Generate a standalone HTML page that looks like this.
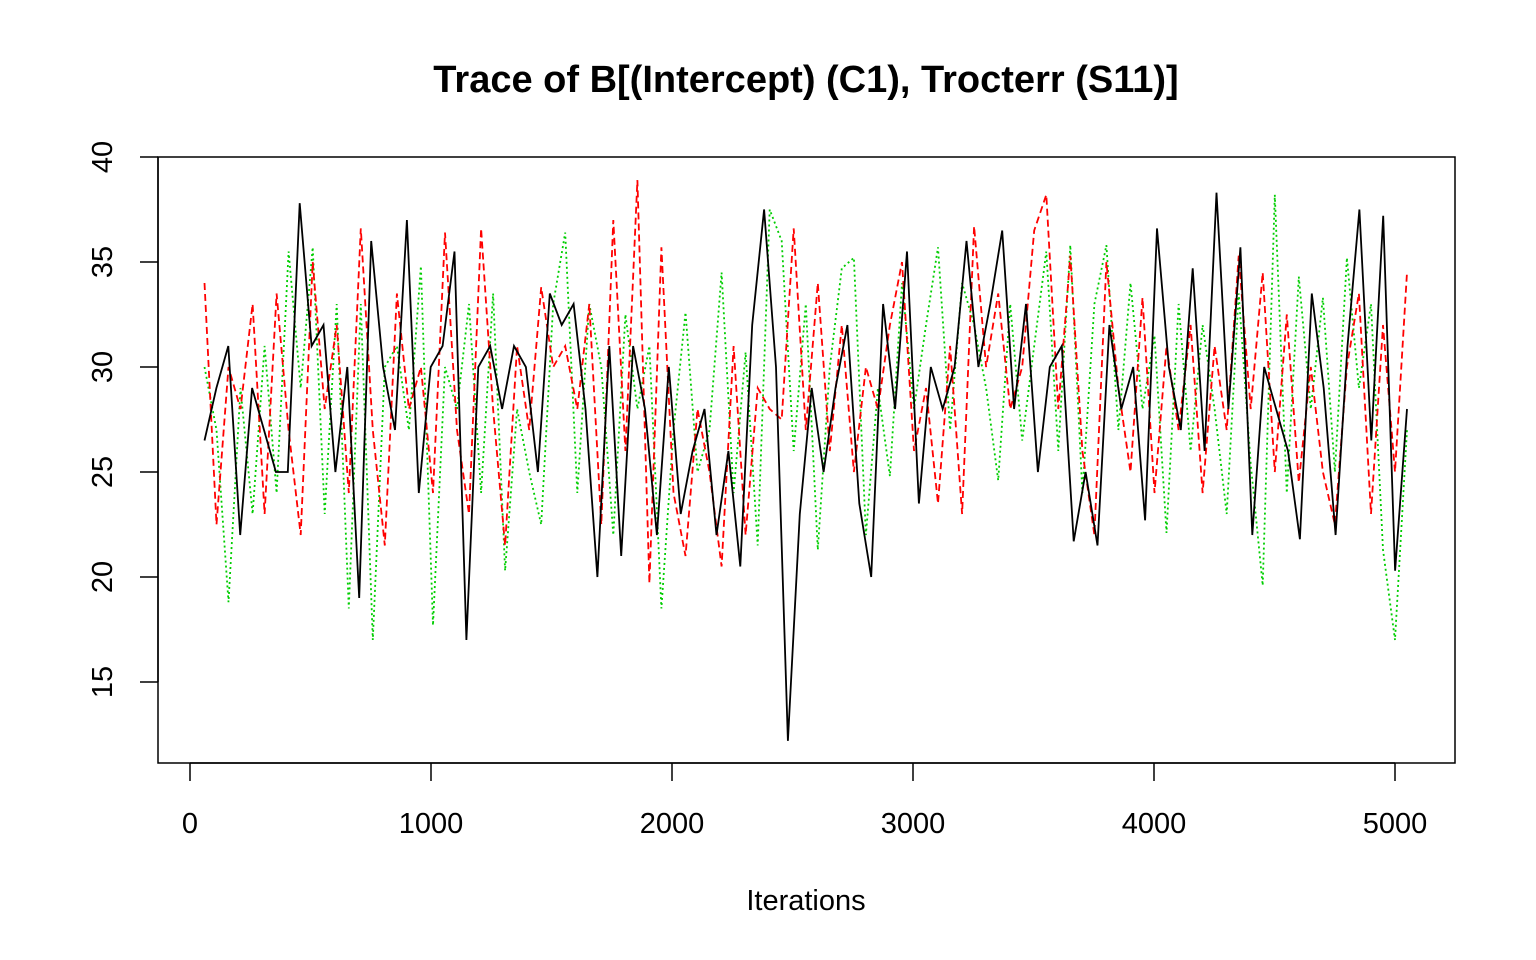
<!DOCTYPE html>
<html><head><meta charset="utf-8"><style>
body{margin:0;background:#fff;}
svg{display:block;font-family:"Liberation Sans",sans-serif;}
</style></head><body>
<svg id="chart" width="1536" height="960">
<text x="806" y="92" text-anchor="middle" font-size="38" font-weight="bold">Trace of B[(Intercept) (C1), Trocterr (S11)]</text>
<rect x="158" y="157" width="1297" height="606" fill="none" stroke="#000" stroke-width="1.5"/>
<g id="xaxis"></g>
<g id="yaxis"></g>
<g id="series"></g>
<text x="806" y="910" text-anchor="middle" font-size="29">Iterations</text>
</svg>
<script>
const iterStart = 60, iterEnd = 5050;
const xTicks = [0,1000,2000,3000,4000,5000];
const yTicks = [15,20,25,30,35,40];
const chain1 = [26.5,29,31,22,29,27,25,25,37.8,31,32,25,30,19,36,30,27,37,24,30,31,35.5,17,30,31,28,31,30,25,33.5,32,33,28,20,31,21,31,28,22,30,23,26,28,22,26,20.5,32,37.5,30,12.2,23,29,25,29,32,23.5,20,33,28,35.5,23.5,30,28,30,36,30,33,36.5,28,33,25,30,31,21.7,25,21.5,32,28,30,22.7,36.6,30,27,34.7,26,38.3,28,35.7,22,30,28,26,21.8,33.5,29,22,31,37.5,26.5,37.2,20.3,28];
const chain2 = [34,22.5,30,28,33,23,33.5,27,22,35,28,32,24,36.6,27,21.5,33.5,28,30,24,36.4,27,23,36.6,28,21.5,31,27,33.8,30,31,28,33,22.5,37,26,38.9,19.7,35.7,24,21,28,25,20.5,31,22,29,28,27.5,36.6,27,34,26,32,25,30,28,32,35,26,29,23.5,31,23,36.7,30,33.5,28,30,36.5,38.2,28,35.3,26,22,35,29,25,33.3,24,31,27,32,24,31,27,35.3,28,34.5,25,32.5,24.5,30,25,22.5,30,33.5,23,32,25,34.5];
const chain3 = [30,27,18.8,29,23,31,24,35.5,29,35.7,23,33,18.5,33,17,30,31,27,34.8,17.7,30,28,33,24,33.5,20.3,28,25,22.5,33,36.4,24,33,30,22,32.5,28,31,18.5,27,32.6,25,27,34.5,24,30.7,21.5,37.5,36,26,33,21.3,30,34.7,35.2,22,29,24.8,34,28,32,35.7,27,34,32,29,24.6,33,26.5,31,35.5,26,35.8,24,33,35.8,27,34,28,31.5,22.1,33,26,32,28,23,33.5,25.4,19.6,38.2,24,34.3,28,33.3,25,35.2,29,33,21.3,17,27];
const X0=190, XS=1205/5000, Y40=157, YS=21;
const sx = v => X0 + v*XS;
const sy = v => Y40 + (40 - v)*YS;
const NS="http://www.w3.org/2000/svg";
function mk(tag, attrs, parent){const e=document.createElementNS(NS,tag);for(const k in attrs)e.setAttribute(k,attrs[k]);parent.appendChild(e);return e;}
const xa=document.getElementById('xaxis');
mk('line',{x1:sx(0),x2:sx(5000),y1:763,y2:763,stroke:'#000','stroke-width':1.5},xa);
xTicks.forEach(t=>{
  const l=mk('line',{x1:sx(t),x2:sx(t),y1:763,y2:781,stroke:'#000','stroke-width':1.5},xa);
  
  
  const tx=mk('text',{x:sx(t),y:833,'text-anchor':'middle','font-size':29},xa);
  tx.textContent=t;
  
  
});
const ya=document.getElementById('yaxis');
mk('line',{x1:158,x2:158,y1:sy(15),y2:sy(40),stroke:'#000','stroke-width':1.5},ya);
yTicks.forEach(t=>{
  const l=mk('line',{x1:140,x2:158,y1:sy(t),y2:sy(t),stroke:'#000','stroke-width':1.5},ya);
  
  
  const tx=mk('text',{x:0,y:0,'text-anchor':'middle','font-size':29,transform:`translate(112,${sy(t)}) rotate(-90)`},ya);
  tx.textContent=t;
  
  
});
const sg=document.getElementById('series');
const defs=[[chain3,'#00cd00','2,3','chain-3-line'],[chain2,'#ff0000','7,4','chain-2-line'],[chain1,'#000000','','chain-1-line']];
defs.forEach(([d,c,dash,name])=>{
  const step=(iterEnd-iterStart)/(d.length-1);
  const pts=d.map((v,i)=>sx(iterStart+i*step).toFixed(1)+','+sy(v).toFixed(1)).join(' ');
  const p=mk('polyline',{points:pts,fill:'none',stroke:c,'stroke-width':1.8,'stroke-dasharray':dash||'none'},sg);
  
  
});
</script>
</body></html>
